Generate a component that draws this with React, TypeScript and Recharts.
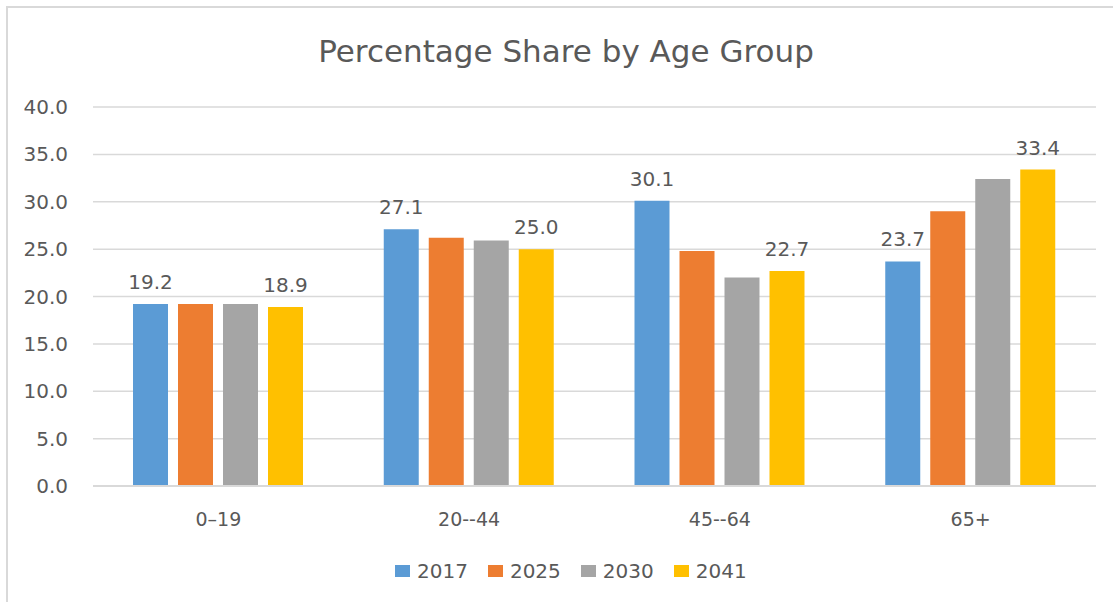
import React from 'react'
import { BarChart, Bar, XAxis, YAxis, CartesianGrid, Legend, LabelList } from 'recharts'

const ageGroups = ['0\u201319', '20--44', '45--64', '65+']
const share2017 = [19.2, 27.1, 30.1, 23.7]
const share2025 = [19.2, 26.2, 24.8, 29.0]
const share2030 = [19.2, 25.9, 22.0, 32.4]
const share2041 = [18.9, 25.0, 22.7, 33.4]
const yTicks = [0, 5, 10, 15, 20, 25, 30, 35, 40]

const series = [
    { key: '2017', values: share2017, color: '#5B9BD5', label: true },
    { key: '2025', values: share2025, color: '#ED7D31', label: false },
    { key: '2030', values: share2030, color: '#A5A5A5', label: false },
    { key: '2041', values: share2041, color: '#FFC000', label: true },
]

const data = ageGroups.map((g, i) => {
    const row: Record<string, string | number> = { group: g }
    series.forEach((s) => {
        row[s.key] = s.values[i]
    })
    return row
})

const FONT = '"DejaVu Sans", sans-serif'
const TEXT = '#595959'
const GRID = '#d9d9d9'

function LegendBox({ payload }: any) {
    return (
        <div
            style={{
                height: 66,
                boxSizing: 'border-box',
                paddingTop: 4,
                paddingLeft: 395,
                display: 'flex',
                alignItems: 'center',
                fontFamily: FONT,
                fontSize: 20,
                color: TEXT,
            }}
        >
            {(payload || []).map((p: any) => (
                <div key={p.value} style={{ display: 'flex', alignItems: 'center', marginRight: 20 }}>
                    <span style={{ width: 15, height: 12, background: p.color, marginRight: 7, display: 'inline-block' }} />
                    <span style={{ lineHeight: '20px' }}>{p.value}</span>
                </div>
            ))}
        </div>
    )
}

export default function App() {
    return (
        <div style={{ position: 'absolute', left: 0, top: 0, width: 1113, height: 602, background: '#fff', overflow: 'hidden' }}>
            <div
                style={{
                    position: 'absolute',
                    left: 6,
                    top: 6,
                    width: 1200,
                    height: 700,
                    borderTop: `2px solid ${GRID}`,
                    borderLeft: `2px solid ${GRID}`,
                }}
            />
            <div
                style={{
                    position: 'absolute',
                    left: 566,
                    top: 36,
                    transform: 'translateX(-50%)',
                    whiteSpace: 'nowrap',
                    fontFamily: FONT,
                    fontSize: 31,
                    lineHeight: '31px',
                    color: TEXT,
                }}
            >
                Percentage Share by Age Group
            </div>
            <div style={{ position: 'absolute', left: 0, top: 0 }}>
                <BarChart
                    width={1113}
                    height={602}
                    data={data}
                    margin={{ top: 107, right: 17, bottom: 0, left: 0 }}
                    barSize={35}
                    barGap={10}
                >
                    <CartesianGrid vertical={false} stroke={GRID} strokeWidth={1.5} />
                    <XAxis
                        dataKey="group"
                        height={50}
                        tickLine={false}
                        tickSize={0}
                        tickMargin={27}
                        axisLine={{ stroke: GRID, strokeWidth: 2 }}
                        tick={{ fill: TEXT, fontSize: 19, fontFamily: FONT }}
                    />
                    <YAxis
                        width={93}
                        domain={[0, 40]}
                        ticks={yTicks}
                        interval={0}
                        tickLine={false}
                        axisLine={false}
                        tickSize={0}
                        tickMargin={25}
                        tick={{ fill: TEXT, fontSize: 20, fontFamily: FONT }}
                        tickFormatter={(v) => Number(v).toFixed(1)}
                    />
                    <Legend verticalAlign="bottom" content={<LegendBox />} />
                    {series.map((s) => (
                        <Bar key={s.key} dataKey={s.key} name={s.key} fill={s.color} isAnimationActive={false}>
                            {s.label && (
                                <LabelList
                                    dataKey={s.key}
                                    position="top"
                                    offset={15}
                                    fill={TEXT}
                                    fontSize={20}
                                    fontFamily={FONT}
                                    formatter={(v: any) => Number(v).toFixed(1)}
                                />
                            )}
                        </Bar>
                    ))}
                </BarChart>
            </div>
        </div>
    )
}
